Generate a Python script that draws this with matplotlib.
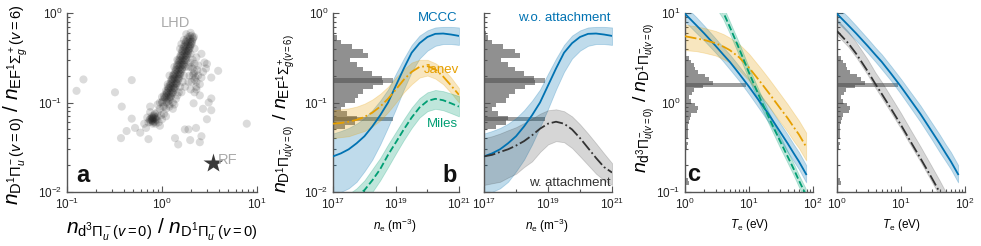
import numpy as np
import matplotlib
matplotlib.use('Agg')
import matplotlib.pyplot as plt
from matplotlib import ticker, transforms
from matplotlib.patches import Rectangle

plt.rcParams['font.family'] = ['Liberation Sans', 'DejaVu Sans']
plt.rcParams['mathtext.fontset'] = 'custom'
plt.rcParams['mathtext.rm'] = 'Liberation Sans'
plt.rcParams['mathtext.it'] = 'Liberation Sans:italic'
plt.rcParams['mathtext.bf'] = 'Liberation Sans:bold'
plt.rcParams['mathtext.sf'] = 'Liberation Sans'

BLUE = '#0072B2'
ORANGE = '#E69F00'
GREEN = '#009E73'
DARK = '#333333'

# ---- panel a: LHD scatter (x = d3/D1 ratio, y = D1/EF ratio)
lhd_x = [0.126, 0.149, 0.32, 0.48, 0.377, 0.48, 0.424, 0.37, 0.52, 0.59, 0.72, 0.75,
         1.37, 1.48, 1.74, 1.9, 2.28, 1.98, 2.6, 2.5, 2.97, 3.3, 3.3, 3.1, 3.9, 3.3,
         2.97, 7.8, 2.15, 2.7,
         # lower cluster
         0.75, 0.8, 0.85, 0.78, 0.82, 0.88, 0.72, 0.8, 0.9, 0.77, 0.84, 0.7, 0.92,
         0.86, 0.81, 0.79, 0.95, 0.65, 0.68, 0.9, 1.0, 0.75,
         0.78, 0.83, 0.8, 0.76, 0.84, 0.82, 0.79, 0.86, 0.74, 0.81,
         # core ridge
         1.12, 1.04, 1.20, 1.12, 1.12, 1.18, 1.10, 1.26, 1.18, 1.18,
         1.24, 1.15, 1.33, 1.24, 1.24, 1.30, 1.21, 1.39, 1.30, 1.30,
         1.36, 1.26, 1.46, 1.36, 1.36, 1.42, 1.32, 1.52, 1.42, 1.42,
         1.48, 1.38, 1.58, 1.48, 1.48, 1.54, 1.43, 1.65, 1.54, 1.54,
         1.60, 1.49, 1.71, 1.60, 1.60, 1.66, 1.54, 1.78, 1.66, 1.66,
         1.73, 1.61, 1.85, 1.73, 1.73, 1.80, 1.67, 1.93, 1.80, 1.80,
         1.88, 1.75, 2.01, 1.88, 1.88, 1.97, 1.83, 2.11, 1.97, 1.97,
         2.06, 2.0, 2.12,
         1.08, 1.16, 1.23, 1.01, 1.13, 1.23, 1.30, 1.06, 1.19, 1.29, 1.36, 1.12,
         1.25, 1.35, 1.43, 1.17, 1.31, 1.41, 1.50, 1.22, 1.36, 1.48, 1.56, 1.28,
         1.42, 1.54, 1.63, 1.33, 1.48, 1.60, 1.69, 1.39, 1.54, 1.66, 1.76, 1.44,
         1.59, 1.73, 1.83, 1.49, 1.66, 1.80, 1.90, 1.56, 1.73, 1.87, 1.98, 1.62,
         1.80, 1.96, 2.07, 1.69, 1.89, 2.05, 2.17, 1.77,
         # right branch
         2.1, 2.2, 2.3, 2.2, 2.4, 2.0, 2.5, 2.3, 2.6, 2.1, 2.4, 2.7, 2.0, 2.2, 2.5,
         1.95, 2.05, 2.15, 2.25, 2.35, 2.1, 2.0, 2.2, 1.9, 2.3,
         # halo
         1.0, 1.05, 1.1, 1.2, 0.95, 1.3, 1.4, 1.15, 1.25, 1.3, 1.35, 1.45, 1.55,
         1.6, 1.7, 1.8, 2.05, 1.95, 1.9, 1.8, 1.75, 1.7, 1.65, 1.75, 1.6, 1.9,
         2.0, 2.2, 2.3, 2.6, 2.8, 2.9, 1.05, 1.1, 0.98,
         1.05, 1.0, 1.1, 1.15, 0.95, 1.2, 1.3, 1.35, 1.5, 1.55, 1.45, 1.2, 0.9, 1.02]
lhd_y = [0.135, 0.181, 0.13, 0.178, 0.09, 0.066, 0.048, 0.04, 0.052, 0.046, 0.039, 0.09,
         0.04, 0.034, 0.05, 0.05, 0.052, 0.038, 0.042, 0.036, 0.065, 0.082, 0.111, 0.1,
         0.226, 0.19, 0.27, 0.058, 0.098, 0.085,
         0.065, 0.062, 0.068, 0.07, 0.072, 0.064, 0.06, 0.058, 0.07, 0.066, 0.075,
         0.068, 0.06, 0.058, 0.066, 0.064, 0.055, 0.058, 0.052, 0.078, 0.065, 0.078,
         0.063, 0.066, 0.068, 0.061, 0.061, 0.07, 0.067, 0.065, 0.064, 0.06,
         0.108, 0.108, 0.108, 0.117, 0.100, 0.122, 0.122, 0.122, 0.132, 0.113,
         0.137, 0.137, 0.137, 0.148, 0.127, 0.154, 0.154, 0.154, 0.166, 0.143,
         0.173, 0.173, 0.173, 0.187, 0.161, 0.195, 0.195, 0.195, 0.21, 0.181,
         0.22, 0.22, 0.22, 0.238, 0.205, 0.248, 0.248, 0.248, 0.268, 0.231,
         0.28, 0.28, 0.28, 0.30, 0.26, 0.315, 0.315, 0.315, 0.34, 0.293,
         0.355, 0.355, 0.355, 0.383, 0.33, 0.40, 0.40, 0.40, 0.432, 0.372,
         0.45, 0.45, 0.45, 0.486, 0.42, 0.51, 0.51, 0.51, 0.55, 0.475,
         0.56, 0.6, 0.53,
         0.113, 0.103, 0.114, 0.102, 0.128, 0.116, 0.129, 0.115, 0.144, 0.130, 0.145, 0.129,
         0.162, 0.146, 0.163, 0.145, 0.182, 0.164, 0.183, 0.163, 0.205, 0.185, 0.207, 0.183,
         0.231, 0.209, 0.233, 0.207, 0.260, 0.236, 0.263, 0.233, 0.294, 0.266, 0.297, 0.263,
         0.331, 0.299, 0.334, 0.296, 0.373, 0.337, 0.376, 0.334, 0.42, 0.38, 0.424, 0.376,
         0.473, 0.428, 0.477, 0.423, 0.536, 0.485, 0.54, 0.479,
         0.2, 0.18, 0.17, 0.22, 0.2, 0.25, 0.16, 0.15, 0.19, 0.3, 0.26, 0.22, 0.14, 0.13, 0.12,
         0.2, 0.17, 0.21, 0.19, 0.23, 0.24, 0.28, 0.27, 0.17, 0.14,
         0.1, 0.09, 0.085, 0.095, 0.085, 0.1, 0.11, 0.15, 0.18, 0.2, 0.25, 0.3, 0.4,
         0.45, 0.5, 0.58, 0.45, 0.4, 0.35, 0.3, 0.25, 0.2, 0.17, 0.15, 0.13, 0.25,
         0.35, 0.4, 0.32, 0.35, 0.28, 0.24, 0.075, 0.07, 0.072,
         0.12, 0.115, 0.135, 0.16, 0.1, 0.09, 0.085, 0.095, 0.13, 0.15, 0.12, 0.2, 0.095, 0.09]
rf_x, rf_y = 3.4, 0.021

# ---- panels b: ratio vs electron density
ne_exp = [17.0, 17.25, 17.5, 17.75, 18.0, 18.25, 18.5, 18.75, 19.0,
          19.25, 19.5, 19.75, 20.0, 20.25, 20.5, 20.75, 21.0]
mccc_b = [0.025, 0.027, 0.030, 0.035, 0.042, 0.054, 0.072, 0.10, 0.155,
          0.24, 0.36, 0.46, 0.54, 0.585, 0.59, 0.575, 0.555]
mccc_b_hi = [0.045, 0.048, 0.052, 0.058, 0.067, 0.082, 0.105, 0.14, 0.21,
             0.31, 0.44, 0.56, 0.64, 0.69, 0.70, 0.70, 0.69]
mccc_b_lo = [0.009, 0.010, 0.011, 0.013, 0.017, 0.023, 0.034, 0.053, 0.085,
             0.14, 0.22, 0.31, 0.38, 0.43, 0.45, 0.45, 0.44]
janev_b = [0.058, 0.059, 0.061, 0.064, 0.069, 0.077, 0.09, 0.11, 0.14,
           0.18, 0.22, 0.25, 0.255, 0.235, 0.195, 0.155, 0.122]
janev_b_hi = [0.082, 0.084, 0.086, 0.09, 0.097, 0.108, 0.125, 0.15, 0.19,
              0.235, 0.28, 0.30, 0.30, 0.275, 0.24, 0.19, 0.145]
janev_b_lo = [0.040, 0.041, 0.042, 0.045, 0.048, 0.054, 0.063, 0.078, 0.10,
              0.13, 0.16, 0.19, 0.20, 0.185, 0.16, 0.128, 0.10]
miles_b = [0.0055, 0.0065, 0.0075, 0.009, 0.0105, 0.0135, 0.018, 0.026, 0.036,
           0.05, 0.068, 0.088, 0.104, 0.11, 0.106, 0.098, 0.09]
miles_b_hi = [0.0075, 0.0085, 0.0095, 0.011, 0.0135, 0.018, 0.024, 0.034, 0.047,
              0.065, 0.088, 0.112, 0.13, 0.138, 0.134, 0.126, 0.118]
miles_b_lo = [0.004, 0.0047, 0.0055, 0.0065, 0.0078, 0.01, 0.0135, 0.019, 0.027,
              0.038, 0.052, 0.068, 0.08, 0.085, 0.082, 0.076, 0.07]
att_b = [0.025, 0.026, 0.028, 0.030, 0.033, 0.037, 0.043, 0.051, 0.058,
         0.061, 0.058, 0.05, 0.04, 0.031, 0.024, 0.019, 0.0165]
att_b_hi = [0.040, 0.042, 0.045, 0.049, 0.053, 0.059, 0.066, 0.075, 0.082,
            0.084, 0.080, 0.070, 0.057, 0.045, 0.035, 0.027, 0.021]
att_b_lo = [0.012, 0.0125, 0.013, 0.0145, 0.016, 0.019, 0.022, 0.028, 0.034,
            0.037, 0.036, 0.031, 0.025, 0.020, 0.016, 0.0135, 0.012]

# histogram of the LHD D1/EF ratio (log10 bin edges, counts)
hist_b_edges = [-1.30, -1.25, -1.20, -1.15, -1.10, -1.05, -1.00, -0.95, -0.90, -0.85, -0.80,
                -0.75, -0.70, -0.65, -0.60, -0.55, -0.50, -0.45, -0.40, -0.35, -0.30,
                -0.25, -0.20]
hist_b_counts = [12, 22, 24, 14, 8, 12, 22, 25, 30, 40, 50,
                 49, 39, 30, 24, 17, 35, 30, 19, 8, 4, 1.5]
peak_b = [(-0.78, -0.73), (-1.21, -1.16)]

# ---- panels c: ratio vs electron temperature
te = [1, 1.5, 2, 3, 4, 5, 7, 10, 15, 20, 30, 40, 50, 60, 78]
mccc_c = [9.8, 7.3, 5.9, 4.3, 3.4, 2.85, 2.1, 1.5, 1.0, 0.75, 0.48, 0.35, 0.27, 0.22, 0.158]
mccc_c_hi = [12, 9.0, 7.2, 5.2, 4.1, 3.45, 2.55, 1.83, 1.23, 0.93, 0.6, 0.44, 0.34, 0.28, 0.2]
mccc_c_lo = [8.0, 6.0, 4.9, 3.6, 2.85, 2.35, 1.75, 1.24, 0.82, 0.61, 0.39, 0.28, 0.22, 0.18, 0.128]
janev_c = [5.5, 5.2, 5.0, 4.6, 4.2, 3.85, 3.2, 2.45, 1.7, 1.3, 0.88, 0.67, 0.53, 0.44, 0.32]
janev_c_hi = [7.4, 7.1, 6.8, 6.3, 5.8, 5.3, 4.5, 3.5, 2.45, 1.88, 1.27, 0.96, 0.76, 0.63, 0.46]
janev_c_lo = [3.85, 3.75, 3.6, 3.35, 3.05, 2.8, 2.3, 1.75, 1.2, 0.92, 0.62, 0.47, 0.37, 0.31, 0.225]
miles_c = [60, 32, 21, 14, 10, 7.0, 4.0, 2.15, 1.1, 0.7, 0.38, 0.25, 0.18, 0.135, 0.092]
miles_c_hi = [72, 38, 25, 16.5, 11.8, 8.2, 4.7, 2.5, 1.28, 0.81, 0.44, 0.29, 0.21, 0.158, 0.108]
miles_c_lo = [50, 27, 17.5, 11.8, 8.5, 6.0, 3.4, 1.83, 0.94, 0.6, 0.325, 0.215, 0.155, 0.116, 0.079]
att_c = [6.3, 4.6, 3.5, 2.25, 1.6, 1.25, 0.85, 0.56, 0.34, 0.24, 0.145, 0.1, 0.075, 0.06, 0.042]
att_c_hi = [8.5, 6.2, 4.7, 3.05, 2.15, 1.7, 1.15, 0.76, 0.46, 0.325, 0.195, 0.135, 0.1, 0.081, 0.057]
att_c_lo = [5.7, 4.2, 3.2, 2.05, 1.45, 1.13, 0.77, 0.51, 0.31, 0.22, 0.132, 0.091, 0.068, 0.055, 0.038]

# histogram of the LHD d3/D1 ratio
hist_c_edges = [-0.92, -0.88, -0.84, -0.80, -0.76, -0.72, -0.68, -0.64, -0.60, -0.56, -0.52,
                -0.48, -0.44, -0.40, -0.36, -0.32, -0.28, -0.24, -0.20, -0.16, -0.12,
                -0.08, -0.04, 0.00, 0.04, 0.08, 0.12, 0.16, 0.20, 0.24, 0.28, 0.32,
                0.36, 0.40, 0.44, 0.48, 0.52]
hist_c_counts = [4, 3, 0, 0, 0, 0, 0, 0, 0, 0, 2, 3, 0, 3, 3, 3, 3, 4, 5, 6, 12, 13,
                 10, 6, 4, 7, 9, 18, 28, 24, 20, 13, 10, 9, 6, 4]
peak_c = [(0.17, 0.215)]


def style(ax):
    for s in ['top', 'right']:
        ax.spines[s].set_visible(False)
    for s in ['left', 'bottom']:
        ax.spines[s].set_color('#555555')
        ax.spines[s].set_linewidth(1.0)
    ax.tick_params(which='both', direction='in', colors='#555555', labelcolor='#222222',
                   labelsize=8.5, width=0.8)
    ax.tick_params(which='major', length=4)
    ax.tick_params(which='minor', length=2)


def draw_hist(ax, edges, counts, width_px, peaks):
    trans = transforms.blended_transform_factory(ax.transAxes, ax.transData)
    for i, c in enumerate(counts):
        if c <= 0:
            continue
        lo, hi = 10 ** edges[i], 10 ** edges[i + 1]
        ax.add_patch(Rectangle((0, lo), c / width_px, hi - lo, transform=trans,
                               facecolor='0.3', alpha=0.62, linewidth=0, zorder=1))
    for lo, hi in peaks:
        ax.add_patch(Rectangle((0, 10 ** lo), 0.48, 10 ** hi - 10 ** lo, transform=trans,
                               facecolor='0.3', alpha=0.55, linewidth=0, zorder=1))


def curve(ax, x, y, lo, hi, color, ls, band_alpha=0.25):
    ax.fill_between(x, lo, hi, color=color, alpha=band_alpha, linewidth=0.6, zorder=2)
    ax.plot(x, y, color=color, ls=ls, lw=1.3, zorder=3)


fig = plt.figure(figsize=(9.81, 2.46), dpi=100)
bot, hgt = 0.2195, 0.7276
ax_a = fig.add_axes([0.0683, bot, 0.1937, hgt])
ax_b = fig.add_axes([0.3394, bot, 0.1284, hgt])
ax_b2 = fig.add_axes([0.4934, bot, 0.1305, hgt], sharey=ax_b)
ax_c = fig.add_axes([0.6983, bot, 0.1305, hgt])
ax_c2 = fig.add_axes([0.8532, bot, 0.1305, hgt], sharey=ax_c)

# panel a
ax_a.scatter(lhd_x, lhd_y, s=34, color='#222222', alpha=0.16, edgecolors='none', zorder=2)
ax_a.plot(rf_x, rf_y, marker='*', ms=15, color='#3a3a3a', mec='none', zorder=3)
ax_a.text(1.37, 0.78, 'LHD', color='#aaaaaa', fontsize=10.5, ha='center', va='center')
ax_a.text(3.85, 0.023, 'RF', color='#aaaaaa', fontsize=10.5, ha='left', va='center')
ax_a.set_xscale('log')
ax_a.set_yscale('log')
ax_a.set_xlim(0.1, 10)
ax_a.set_ylim(0.01, 1)
ax_a.set_xlabel(r'$n_{\mathrm{d}^3\Pi_u^-(v=0)}\ /\ n_{\mathrm{D}^1\Pi_u^-(v=0)}$', fontsize=15)
ax_a.xaxis.set_label_coords(0.5, -0.14)
ax_a.set_ylabel(r'$n_{\mathrm{D}^1\Pi_u^-(v=0)}\ /\ n_{\mathrm{EF}^1\Sigma_g^+(v=6)}$', fontsize=15)
ax_a.yaxis.set_label_coords(-0.195, 0.49)
ax_a.text(0.05, 0.03, 'a', transform=ax_a.transAxes, fontsize=17, fontweight='bold',
          ha='left', va='bottom', color='#111111')
style(ax_a)

# panels b
ne = np.power(10.0, ne_exp)
for ax in (ax_b, ax_b2):
    draw_hist(ax, hist_b_edges, hist_b_counts, 126.0, peak_b)
curve(ax_b, ne, mccc_b, mccc_b_lo, mccc_b_hi, BLUE, '-')
curve(ax_b, ne, janev_b, janev_b_lo, janev_b_hi, ORANGE, '-.')
curve(ax_b, ne, miles_b, miles_b_lo, miles_b_hi, GREEN, '--')
curve(ax_b2, ne, mccc_b, mccc_b_lo, mccc_b_hi, BLUE, '-')
curve(ax_b2, ne, att_b, att_b_lo, att_b_hi, DARK, '-.', band_alpha=0.2)

ax_b.text(0.99, 0.97, 'MCCC', color=BLUE, fontsize=9.5, ha='right', va='center',
          transform=ax_b.transAxes)
ax_b.text(1.0, 0.68, 'Janev', color=ORANGE, fontsize=9.5, ha='right', va='center',
          transform=ax_b.transAxes)
ax_b.text(0.99, 0.38, 'Miles', color=GREEN, fontsize=9.5, ha='right', va='center',
          transform=ax_b.transAxes)
ax_b.text(0.98, 0.03, 'b', transform=ax_b.transAxes, fontsize=17, fontweight='bold',
          ha='right', va='bottom', color='#111111')
ax_b2.text(0.99, 0.97, 'w.o. attachment', color=BLUE, fontsize=9.5, ha='right',
           va='center', transform=ax_b2.transAxes)
ax_b2.text(0.99, 0.05, 'w. attachment', color=DARK, fontsize=9.5, ha='right',
           va='center', transform=ax_b2.transAxes)

for ax in (ax_b, ax_b2):
    ax.set_xscale('log')
    ax.set_yscale('log')
    ax.set_xlim(1e17, 1e21)
    ax.set_ylim(0.01, 1)
    ax.xaxis.set_major_locator(ticker.FixedLocator([1e17, 1e19, 1e21]))
    ax.xaxis.set_minor_locator(ticker.FixedLocator([1e18, 1e20]))
    ax.xaxis.set_minor_formatter(ticker.NullFormatter())
    ax.set_xlabel(r'$n_\mathrm{e}\ (\mathrm{m}^{-3})$', fontsize=8.5)
    ax.xaxis.set_label_coords(0.49, -0.14)
    style(ax)
ax_b2.tick_params(labelleft=False)
ax_b.set_ylabel(r'$n_{\mathrm{D}^1\Pi^-_{u(v=0)}}\ /\ n_{\mathrm{EF}^1\Sigma^+_{g(v=6)}}$',
                fontsize=14)
ax_b.yaxis.set_label_coords(-0.286, 0.436)

# panels c
for ax in (ax_c, ax_c2):
    draw_hist(ax, hist_c_edges, hist_c_counts, 128.0, peak_c)
curve(ax_c, te, mccc_c, mccc_c_lo, mccc_c_hi, BLUE, '-')
curve(ax_c, te, janev_c, janev_c_lo, janev_c_hi, ORANGE, '-.')
curve(ax_c, te, miles_c, miles_c_lo, miles_c_hi, GREEN, '--')
curve(ax_c2, te, mccc_c, mccc_c_lo, mccc_c_hi, BLUE, '-')
curve(ax_c2, te, att_c, att_c_lo, att_c_hi, DARK, '-.', band_alpha=0.2)
ax_c.text(0.02, 0.035, 'c', transform=ax_c.transAxes, fontsize=17, fontweight='bold',
          ha='left', va='bottom', color='#111111')

for ax in (ax_c, ax_c2):
    ax.set_xscale('log')
    ax.set_yscale('log')
    ax.set_xlim(1, 100)
    ax.set_ylim(0.1, 10)
    ax.set_xlabel(r'$T_\mathrm{e}\ (\mathrm{eV})$', fontsize=8.5)
    ax.xaxis.set_label_coords(0.5, -0.14)
    style(ax)
ax_c2.tick_params(labelleft=False)
ax_c.set_ylabel(r'$n_{\mathrm{d}^3\Pi^-_{u(v=0)}}\ /\ n_{\mathrm{D}^1\Pi^-_{u(v=0)}}$',
                fontsize=14)
ax_c.yaxis.set_label_coords(-0.22, 0.525)

fig.savefig('out.png', dpi=100)
